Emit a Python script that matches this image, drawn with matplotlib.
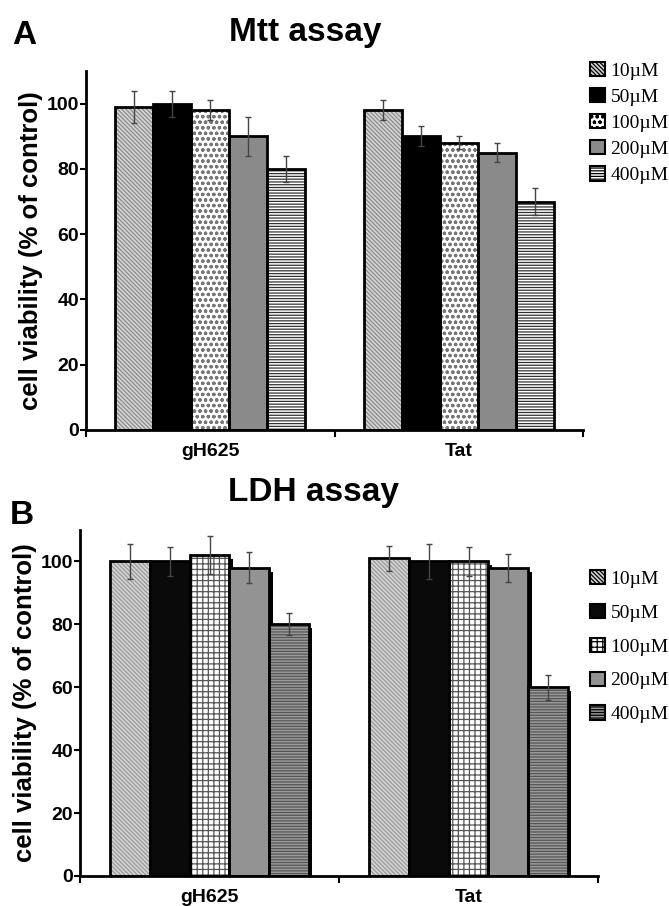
import matplotlib
matplotlib.use("Agg")
import matplotlib.pyplot as plt
import numpy as np
from matplotlib.patches import Patch

plt.rcParams['font.family'] = ['Liberation Sans', 'DejaVu Sans']
plt.rcParams['hatch.linewidth'] = 0.9

categories = ["gH625", "Tat"]
concentrations = ["10µM", "50µM", "100µM", "200µM", "400µM"]

mtt_values = {
    "gH625": [99, 100, 98, 90, 80],
    "Tat":   [98, 90, 88, 85, 70],
}
mtt_errors = {
    "gH625": [5, 4, 3, 6, 4],
    "Tat":   [3, 3, 2, 3, 4],
}
ldh_values = {
    "gH625": [100, 100, 102, 98, 80],
    "Tat":   [101, 100, 100, 98, 60],
}
ldh_errors = {
    "gH625": [5.5, 4.5, 6, 5, 3.5],
    "Tat":   [4, 5.5, 4.5, 4.5, 4],
}
yticks = [0, 20, 40, 60, 80, 100]

# style per concentration: (face, hatch, hatch colour)
styles_A = [
    ("#d6d6d6", "\\\\\\\\\\\\\\\\", "#8a8a8a"),
    ("#000000", None, None),
    ("#ffffff", "ooo", "#777777"),
    ("#8a8a8a", None, None),
    ("#ffffff", "------", "#333333"),
]
styles_B = [
    ("#d4d4d4", "\\\\\\\\\\\\\\\\", "#999999"),
    ("#0a0a0a", None, None),
    ("#ffffff", "+++", "#555555"),
    ("#939393", None, None),
    ("#9a9a9a", "------", "#555555"),
]

fig = plt.figure(figsize=(6.69, 9.06), dpi=100)
axA = fig.add_axes([86/669, 1-430/906, 497/669, 359/906])
axB = fig.add_axes([80/669, 1-876/906, 518/669, 346/906])


def draw(ax, values, errors, styles, shadow):
    x = np.arange(len(categories))
    n = len(concentrations)
    w = 0.153
    for i in range(n):
        vals = [values[c][i] for c in categories]
        errs = [errors[c][i] for c in categories]
        pos = x + (i - (n - 1) / 2) * w
        face, hatch, hcol = styles[i]
        if shadow:
            ax.bar(pos + 0.014, [v - 1.2 for v in vals], w, color="black",
                   linewidth=0, zorder=1)
        ax.bar(pos, vals, w, color=face, hatch=hatch,
               edgecolor=hcol if hcol else face, linewidth=0, zorder=2)
        ax.bar(pos, vals, w, fill=False, edgecolor="black", linewidth=2.0,
               zorder=3)
        ax.errorbar(pos, vals, yerr=errs, fmt="none", ecolor="#444444",
                    elinewidth=1.0, capsize=2.5, capthick=1.0, zorder=4)
    ax.set_xlim(-0.5, 1.5)
    ax.set_ylim(0, 110)
    ax.set_yticks(yticks)
    ax.set_yticklabels([str(t) for t in yticks], fontsize=14, fontweight="bold")
    ax.set_xticks(x)
    ax.set_xticklabels(categories, fontsize=14, fontweight="bold")
    ax.tick_params(axis="x", which="major", length=0, pad=9)
    ax.set_xticks([-0.5, 0.5, 1.5], minor=True)
    ax.tick_params(axis="x", which="minor", length=5, width=1.5, direction="out")
    ax.tick_params(axis="y", length=4, width=1.5, pad=1)
    for s in ["top", "right"]:
        ax.spines[s].set_visible(False)
    for s in ["left", "bottom"]:
        ax.spines[s].set_linewidth(2.0)
    ax.set_ylabel("cell viability (% of control)", fontsize=18.5,
                  fontweight="bold", labelpad=3)


def legend(styles, anchor, spacing):
    handles = []
    for (face, hatch, hcol), lab in zip(styles, concentrations):
        handles.append(Patch(facecolor=face, hatch=hatch, edgecolor="black",
                             linewidth=1.5, label=lab))
    leg = fig.legend(handles=handles, loc="upper left", bbox_to_anchor=anchor,
                     frameon=False, handlelength=0.75, handleheight=0.75,
                     handletextpad=0.3, labelspacing=spacing,
                     borderaxespad=0, borderpad=0,
                     prop={"family": "Liberation Serif", "size": 14})
    return leg


draw(axA, mtt_values, mtt_errors, styles_A, shadow=False)
draw(axB, ldh_values, ldh_errors, styles_B, shadow=True)

legend(styles_A, (590/669, 1-62/906), 0.42)
legend(styles_B, (590/669, 1-570/906), 0.82)

title_font = ['Liberation Sans', 'DejaVu Sans']
fig.text(305/669, 1-32/906, "Mtt assay", ha="center", va="center",
         fontsize=24, fontweight="bold", family=title_font)
fig.text(12/669, 1-35/906, "A", ha="left", va="center",
         fontsize=24, fontweight="bold", family=title_font)
fig.text(314/669, 1-493/906, "LDH assay", ha="center", va="center",
         fontsize=24, fontweight="bold", family=title_font)
fig.text(10/669, 1-515/906, "B", ha="left", va="center",
         fontsize=24, fontweight="bold", family=title_font)

fig.savefig("out.png", dpi=100)
